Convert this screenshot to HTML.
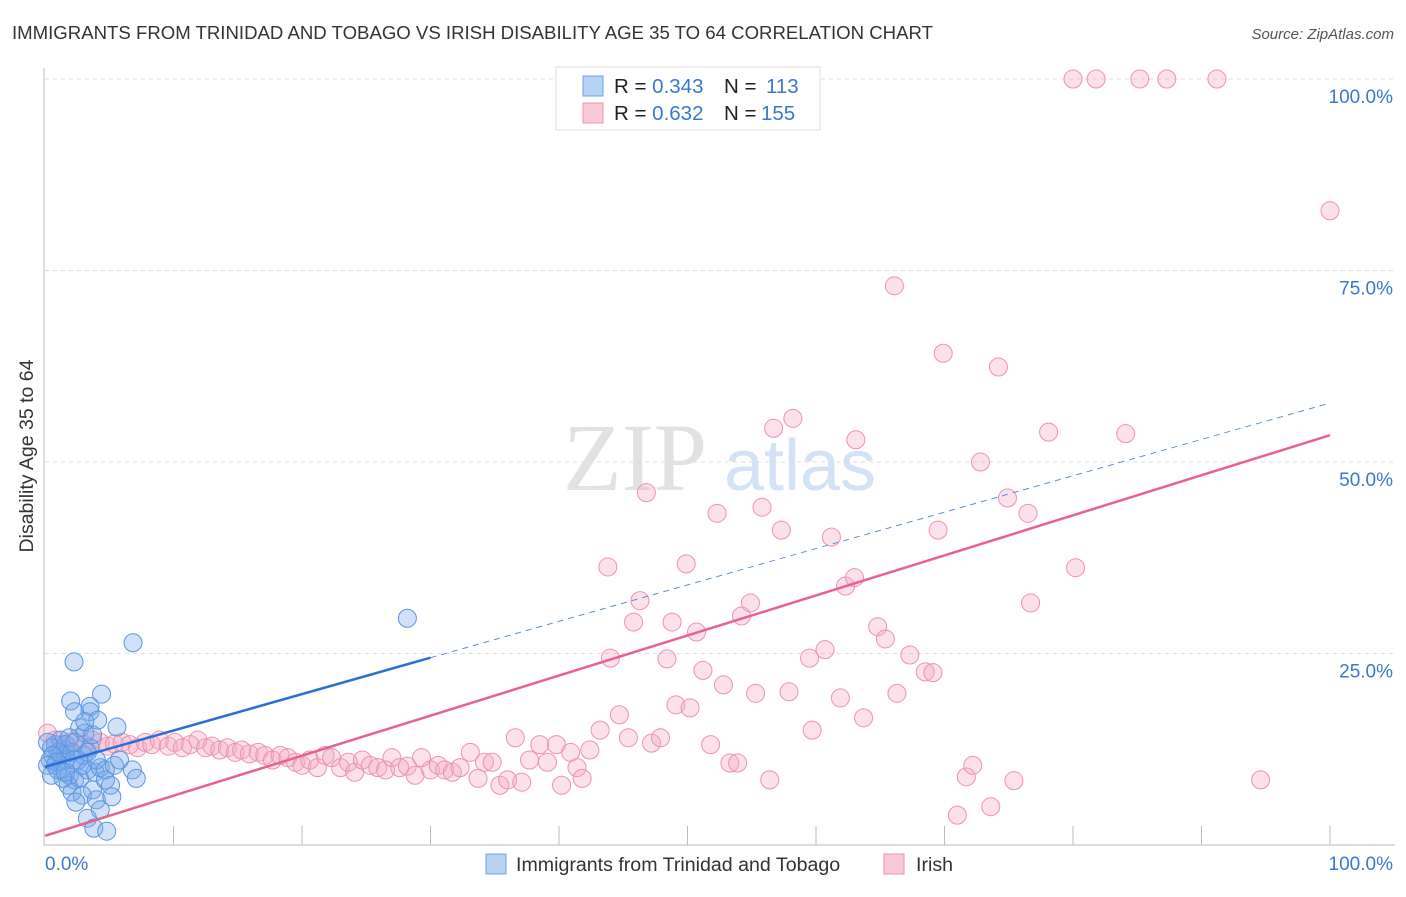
<!DOCTYPE html>
<html><head><meta charset="utf-8"><style>
body{margin:0;background:#fff;font-family:"Liberation Sans",sans-serif}
</style></head><body>
<svg width="1406" height="892" viewBox="0 0 1406 892" style="font-family:'Liberation Sans',sans-serif">
<text x="12" y="39" font-size="18.6" fill="#333">IMMIGRANTS FROM TRINIDAD AND TOBAGO VS IRISH DISABILITY AGE 35 TO 64 CORRELATION CHART</text>
<text x="1394" y="39" font-size="15" fill="#555" font-style="italic" text-anchor="end">Source: ZipAtlas.com</text>
<g>
<text x="635" y="490" font-size="96" fill="#e2e2e2" font-family="Liberation Serif" text-anchor="middle">ZIP</text>
<text x="800" y="490" font-size="72" fill="#d3e3f5" text-anchor="middle">atlas</text>
</g>
<g id="grid"></g>
<g id="axes"></g>
<g id="marks"></g>
<text transform="translate(33,456) rotate(-90)" font-size="19.5" fill="#333" text-anchor="middle">Disability Age 35 to 64</text>
<g>
<rect x="556" y="67" width="264" height="63" fill="#fff" stroke="#ddd"/>
<rect x="583" y="76" width="20" height="20" fill="#b6d2f5" stroke="#6fa3e6"/>
<rect x="583" y="103" width="20" height="20" fill="#fbc8d8" stroke="#ec93b0"/>
<text x="614" y="93" font-size="20.5" fill="#222">R = <tspan fill="#3a78d0">0.343</tspan><tspan x="724">N = </tspan><tspan x="766" fill="#3a78d0">113</tspan></text>
<text x="614" y="120" font-size="20.5" fill="#222">R = <tspan fill="#3a78d0">0.632</tspan><tspan x="724">N = </tspan><tspan x="761" fill="#3a78d0">155</tspan></text>
</g>
<g>
<rect x="486" y="854" width="20" height="20" fill="#b6d2f5" stroke="#6fa3e6"/>
<text x="516" y="871" font-size="19.6" fill="#333">Immigrants from Trinidad and Tobago</text>
<rect x="884" y="854" width="20" height="20" fill="#fbc8d8" stroke="#ec93b0"/>
<text x="916" y="871" font-size="19.6" fill="#333">Irish</text>
</g>
</svg>
<script>
const blueX=[2.26,6.85,28.2,2.0,4.4,3.5,3.5,2.3,4.1,5.6,2.7,3.1,0.8,1.2,1.6,0.4,0.8,1.3,1.9,2.3,1.8,2.7,3.3,3.9,4.3,4.7,5.1,3.7,2.1,2.9,4.0,5.2,4.3,3.3,3.8,4.8,6.8,7.1,1.2,1.6,0.5,1.0,1.6,2.1,2.6,3.0,3.5,1.9,2.3,0.2,0.6,0.9,1.4,2.4,0.2,0.5,1.0,1.6,2.3,2.9,3.3,4.0,4.7,5.4,3.7,3.1,5.8];
const blueY=[23.9,26.4,29.6,18.8,19.7,18.1,17.4,17.4,16.3,15.4,15.3,14.6,13.1,13.7,12.4,11.1,10.4,9.8,9.1,8.5,7.8,8.7,9.8,9.5,10.1,8.5,7.8,7.2,6.9,6.5,5.9,6.3,4.6,3.5,2.2,1.8,9.8,8.7,11.7,11.1,12.7,12.1,13.1,12.1,11.1,11.7,12.7,14.0,13.4,13.4,11.7,10.8,8.7,5.6,10.4,9.1,9.8,9.5,11.1,10.4,12.1,11.1,9.8,10.4,14.4,16.1,11.1];
const pinkX=[0.2,0.8,1.3,1.9,2.6,3.1,3.7,4.3,4.9,5.4,6.0,6.6,7.2,7.8,8.3,8.9,9.6,10.1,10.7,11.3,11.9,12.5,13.0,13.6,14.2,14.8,15.3,15.9,16.6,17.1,17.7,18.3,18.9,19.5,20.0,20.6,21.2,21.8,22.3,23.0,23.6,24.1,24.7,25.3,25.9,26.5,27.0,27.6,28.2,28.8,29.3,30.0,30.6,31.1,31.7,32.3,33.1,33.7,34.2,34.8,35.4,36.0,36.6,37.1,37.7,38.5,39.1,39.8,40.2,40.9,41.4,41.8,42.4,43.2,44.0,44.7,45.4,43.8,45.8,46.3,46.8,47.2,47.9,48.4,48.8,49.1,49.9,50.2,50.7,51.2,51.8,52.3,52.8,53.3,53.9,54.2,54.9,55.3,55.8,56.4,56.7,57.3,57.9,58.2,59.5,59.7,60.7,61.2,61.9,62.3,63.0,63.1,63.7,64.8,65.4,66.1,66.3,67.3,68.5,69.1,69.5,69.9,71.0,71.7,72.2,72.8,73.6,74.2,74.9,75.4,76.5,76.7,78.1,80.2,80.0,81.8,84.1,85.2,87.3,91.2,94.6,100.0];
const pinkY=[14.6,13.7,13.1,13.4,14.0,13.1,13.7,13.4,12.9,13.2,13.4,13.1,12.7,13.4,13.1,13.7,12.9,13.4,12.7,13.1,13.7,12.7,12.9,12.4,12.7,12.1,12.4,11.9,12.1,11.7,11.1,11.7,11.4,10.8,10.4,11.1,10.1,11.7,11.4,10.1,10.8,9.5,11.1,10.4,10.1,9.8,11.4,10.1,10.3,9.1,11.4,9.8,10.4,9.8,9.5,10.1,12.1,8.7,10.8,10.8,7.8,8.5,14.0,8.2,11.1,13.1,10.8,13.1,7.8,12.1,10.1,8.7,12.4,15.0,24.4,17.0,14.0,36.3,29.1,31.9,46.0,13.3,14.0,24.3,29.1,18.3,36.7,17.9,27.8,22.8,13.1,43.3,20.9,10.7,10.7,29.9,31.6,19.8,44.1,8.5,54.4,41.1,20.0,55.7,24.4,15.0,25.5,40.2,19.2,33.8,34.9,52.9,16.6,28.5,26.9,73.0,19.8,24.8,22.6,22.5,41.1,64.2,3.9,8.9,10.4,50.0,5.0,62.4,45.3,8.4,43.3,31.6,53.9,36.2,100,100,53.7,100,100,100,8.5,82.8];
const yTicks=[25,50,75,100];
const yTickLabels=["25.0%","50.0%","75.0%","100.0%"];
const blueTrend=[10.2,57.7];
const pinkTrend=[1.2,53.5];
const NS="http://www.w3.org/2000/svg";
const sx=v=>45+v*12.85;
const sy=v=>845-v*7.66;
function mk(tag,attrs,parent){const e=document.createElementNS(NS,tag);for(const k in attrs)e.setAttribute(k,attrs[k]);parent.appendChild(e);return e;}
const grid=document.getElementById('grid'),axes=document.getElementById('axes'),marks=document.getElementById('marks');
yTicks.forEach((t,i)=>{
  const l=mk('line',{x1:45,x2:1395,y1:sy(t),y2:sy(t),stroke:'#ddd','stroke-dasharray':'4,4'},grid);
  
  
  const tx=mk('text',{x:1393,y:sy(t)+24,'font-size':19,fill:'#3a78d0','text-anchor':'end'},axes);
  tx.textContent=yTickLabels[i];
  
  
});
const ya=mk('line',{x1:44,x2:44,y1:68,y2:845,stroke:'#bbb'},axes);


const xa=mk('line',{x1:44,x2:1395,y1:845,y2:845,stroke:'#bbb'},axes);


for(let i=1;i<=10;i++){
  const t=mk('line',{x1:sx(i*10),x2:sx(i*10),y1:826,y2:845,stroke:'#bbb'},axes);
  
  
}
const xl0=mk('text',{x:45,y:870,'font-size':19,fill:'#3a78d0'},axes);xl0.textContent='0.0%';


const xl1=mk('text',{x:1393,y:870,'font-size':19,fill:'#3a78d0','text-anchor':'end'},axes);xl1.textContent='100.0%';


pinkX.forEach((x,i)=>{
  const c=mk('circle',{cx:sx(x),cy:sy(pinkY[i]),r:9,fill:'rgba(246,170,196,0.35)',stroke:'#ec93b0','stroke-width':1},marks);
  
  
});
blueX.forEach((x,i)=>{
  const c=mk('circle',{cx:sx(x),cy:sy(blueY[i]),r:9,fill:'rgba(120,170,235,0.35)',stroke:'#5b96e0','stroke-width':1},marks);
  
  
});
const bAt=x=>blueTrend[0]+(blueTrend[1]-blueTrend[0])*x/100;
const b1=mk('line',{x1:sx(0),y1:sy(bAt(0)),x2:sx(30),y2:sy(bAt(30)),stroke:'#2a6fd6','stroke-width':2.5},marks);


const b2=mk('line',{x1:sx(30),y1:sy(bAt(30)),x2:sx(100),y2:sy(bAt(100)),stroke:'#5b8fd8','stroke-width':1,'stroke-dasharray':'6,5'},marks);


const p1=mk('line',{x1:sx(0),y1:sy(pinkTrend[0]),x2:sx(100),y2:sy(pinkTrend[1]),stroke:'#e8628e','stroke-width':2.5},marks);


</script>
</body></html>
